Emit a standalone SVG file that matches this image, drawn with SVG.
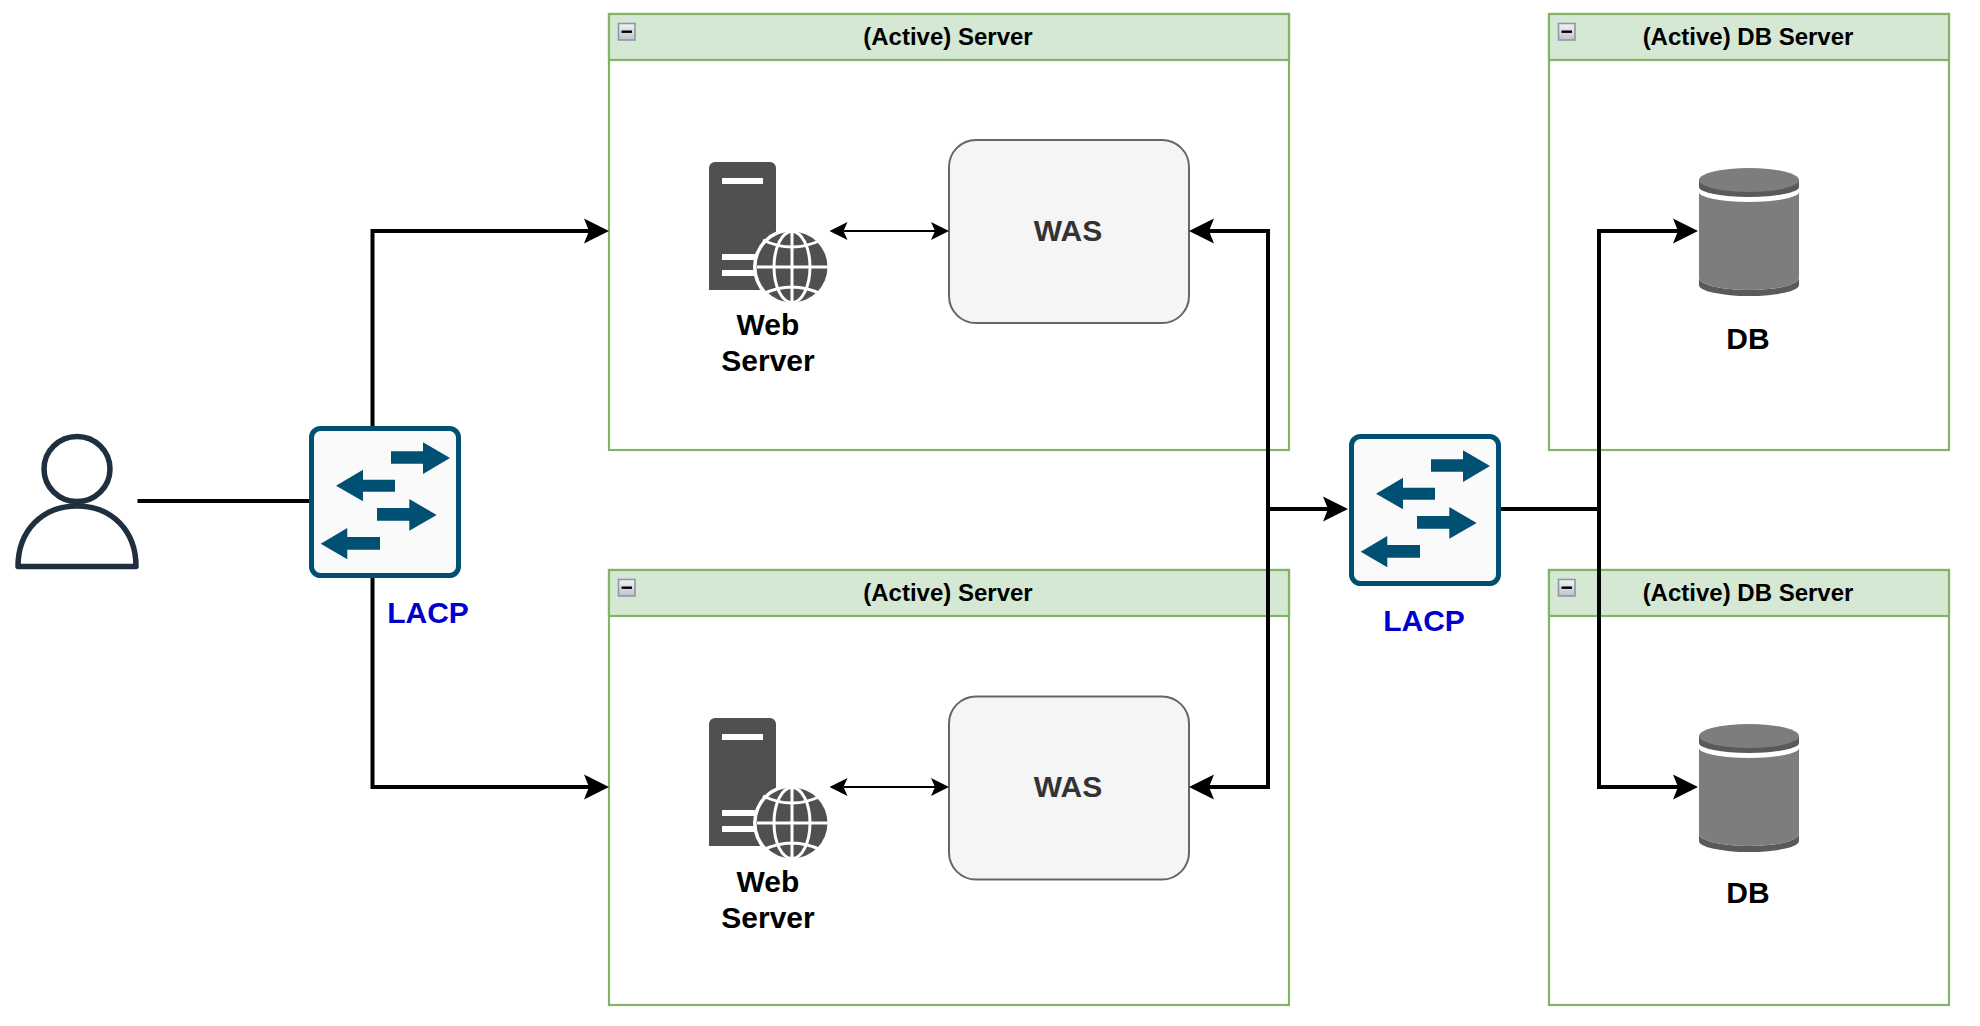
<svg xmlns="http://www.w3.org/2000/svg" width="1980" height="1026" viewBox="0 0 1980 1026">
<style>
text{font-family:"Liberation Sans",Arial,sans-serif;font-weight:bold;text-anchor:middle}
.t{font-size:24px;fill:#000}
.l{font-size:30px;fill:#000}
.was{font-size:30px;fill:#333}
.lacp{font-size:30px;fill:#0000cc}
.frame{fill:#fff;stroke:#82b366;stroke-width:2.2}
.head{fill:#d5e8d4;stroke:#82b366;stroke-width:2.2}
.wasbox{fill:#f5f5f5;stroke:#666;stroke-width:2}
.big{fill:none;stroke:#000;stroke-width:4}
.small{fill:none;stroke:#000;stroke-width:2}
</style>
<defs>
<linearGradient id="tg" x1="0" y1="0" x2="0" y2="1"><stop offset="0" stop-color="#f4f4f6"/><stop offset="1" stop-color="#bfc2c8"/></linearGradient>
<marker id="ab" markerUnits="userSpaceOnUse" markerWidth="27" markerHeight="27" viewBox="0 -13.5 27 27" refX="5" refY="0" orient="auto-start-reverse"><path d="M0-12.5L25 0 0 12.5 5 0Z" fill="#000"/></marker>
<marker id="as" markerUnits="userSpaceOnUse" markerWidth="20" markerHeight="20" viewBox="0 -10 20 20" refX="4" refY="0" orient="auto-start-reverse"><path d="M0-9L18 0 0 9 4 0Z" fill="#000"/></marker>
<g id="toggle"><rect x="0.5" y="0.5" width="16.5" height="16.5" fill="url(#tg)" stroke="#8d97ab" stroke-width="1.6"/><rect x="3.5" y="7.5" width="10.5" height="2.4" fill="#000"/></g>
<g id="switch">
<rect x="2.5" y="2.5" width="147" height="147" rx="9" fill="#fafafa" stroke="#005073" stroke-width="5"/>
<path fill="#005073" d="M82 25.300H114V16.300L141 32 114 48V37.700H82ZM86 53.700H54V43.700L27 59.700 54 75.300V65.700H86ZM68 82H100.300V73L127.700 89 100.300 104.700V94.700H68ZM71 111H38.300V102L11.700 117.700 38.300 133.300V123.700H71Z"/>
</g>
<g id="webicon">
<path d="M709 168a6 6 0 0 1 6-6h55a6 6 0 0 1 6 6V290H709Z" fill="#505050"/>
<path d="M722 178h41v6h-41zM722 254h40v6h-40zM722 270h40v6h-40z" fill="#fff"/>
<circle cx="792" cy="267" r="39" fill="#fff"/>
<circle cx="792" cy="267" r="35.500" fill="#505050"/>
<g fill="none" stroke="#fff" stroke-width="3">
<ellipse cx="792" cy="267" rx="18" ry="35.500"/>
<path d="M792 231V303M757 267H828M763 240Q792 254 821 240M763 294Q792 280 821 294"/>
</g>
</g>
<g id="dbicon">
<path d="M1699 278A50 12 0 0 0 1799 278V285A50 11 0 0 1 1699 285Z" fill="#5a5a5a"/>
<path d="M1699 192A50 10 0 0 0 1799 192V278A50 12 0 0 1 1699 278Z" fill="#7d7d7d"/>
<path d="M1699 180V187A50 10 0 0 0 1799 187V180Z" fill="#5a5a5a"/>
<ellipse cx="1749" cy="180" rx="50" ry="12" fill="#7d7d7d"/>
</g>
</defs>
<rect width="1980" height="1026" fill="#fff"/>

<g id="server-1">
<rect class="frame" x="609" y="14" width="680" height="436"/>
<rect class="head" x="609" y="14" width="680" height="46"/>
<use href="#toggle" x="618" y="23"/>
<text class="t" x="948" y="45">(Active) Server</text>
</g>
<g id="server-2">
<rect class="frame" x="609" y="570" width="680" height="435"/>
<rect class="head" x="609" y="570" width="680" height="46"/>
<use href="#toggle" x="618" y="579"/>
<text class="t" x="948" y="601">(Active) Server</text>
</g>
<g id="db-server-1">
<rect class="frame" x="1549" y="14" width="400" height="436"/>
<rect class="head" x="1549" y="14" width="400" height="46"/>
<use href="#toggle" x="1558" y="23"/>
<text class="t" x="1748" y="45">(Active) DB Server</text>
</g>
<g id="db-server-2">
<rect class="frame" x="1549" y="570" width="400" height="435"/>
<rect class="head" x="1549" y="570" width="400" height="46"/>
<use href="#toggle" x="1558" y="579"/>
<text class="t" x="1748" y="601">(Active) DB Server</text>
</g>

<g id="web-1"><use href="#webicon"/><text class="l" x="768" y="335">Web</text><text class="l" x="768" y="371">Server</text></g>
<g id="web-2"><use href="#webicon" y="556"/><text class="l" x="768" y="892">Web</text><text class="l" x="768" y="928">Server</text></g>
<g id="was-1"><rect class="wasbox" x="949" y="140" width="240" height="183" rx="27"/><text class="was" x="1068" y="241">WAS</text></g>
<g id="was-2"><rect class="wasbox" x="949" y="696.500" width="240" height="183" rx="27"/><text class="was" x="1068" y="797">WAS</text></g>
<g id="db-1"><use href="#dbicon"/><text class="l" x="1748" y="349">DB</text></g>
<g id="db-2"><use href="#dbicon" y="556"/><text class="l" x="1748" y="903">DB</text></g>

<g id="user"><ellipse cx="77" cy="469" rx="33" ry="32.500" fill="#fff" stroke="#1f2f3d" stroke-width="5.500"/><path d="M18 566.500C18 531 42 506 77 506S136 531 136 566.500Z" fill="#fff" stroke="#1f2f3d" stroke-width="5.500" stroke-linejoin="round"/></g>

<g id="connectors">
<path class="big" d="M137.500 501H310"/>
<path class="big" d="M372.500 426V231H589" marker-end="url(#ab)"/>
<path class="big" d="M372.500 578V787H589" marker-end="url(#ab)"/>
<path class="small" d="M843.500 231H935" marker-start="url(#as)" marker-end="url(#as)"/>
<path class="small" d="M843.500 787H935" marker-start="url(#as)" marker-end="url(#as)"/>
<path class="big" d="M1209 231H1268V787H1209" marker-start="url(#ab)" marker-end="url(#ab)"/>
<path class="big" d="M1268 509H1328" marker-end="url(#ab)"/>
<path class="big" d="M1501 509H1599"/>
<path class="big" d="M1678 231H1599V787H1678" marker-start="url(#ab)" marker-end="url(#ab)"/>
</g>

<g id="switch-1"><use href="#switch" x="309" y="426"/><text class="lacp" x="428" y="623">LACP</text></g>
<g id="switch-2"><use href="#switch" x="1349" y="434"/><text class="lacp" x="1424" y="631">LACP</text></g>
</svg>
